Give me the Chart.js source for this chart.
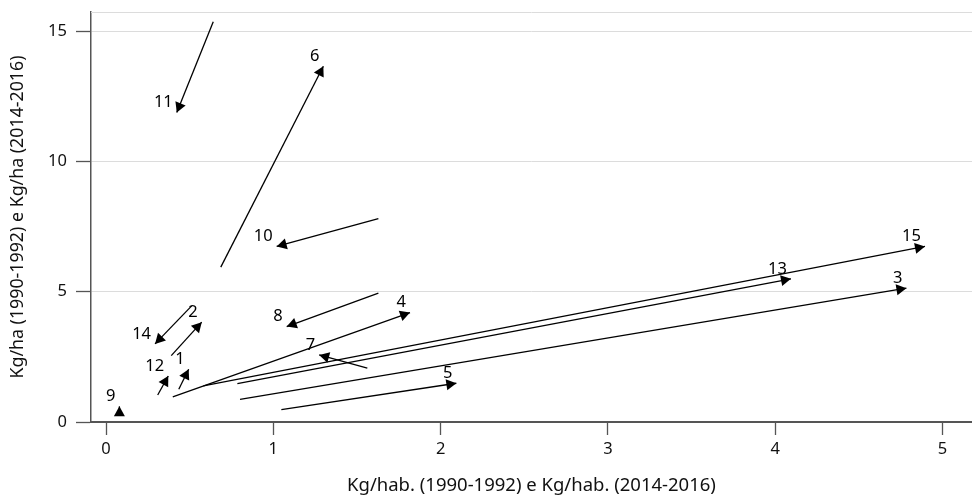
<!DOCTYPE html>
<html>
<head>
<meta charset="utf-8">
<script src="https://cdn.jsdelivr.net/npm/chart.js@4.4.0/dist/chart.umd.min.js"></script>
<style>
  html, body { margin: 0; padding: 0; background: #fff; }
  #wrap { width: 972px; height: 497px; }
</style>
</head>
<body>
<div id="wrap"><canvas id="chart"></canvas></div>
<script>
// ==== Dados: cada seta vai de (1990-1992) para (2014-2016) ====
const ids   = ["1", "2", "3", "4", "5", "6", "7", "8", "9", "10", "11", "12", "13", "14", "15"];
const x1990 = [0.435, 0.390, 0.801, 0.399, 1.048, 0.686, 1.562, 1.628, 0.080, 1.628, 0.641, 0.309, 0.785, 0.512, 0.582];
const y1990 = [1.256, 2.547, 0.872, 0.960, 0.473, 5.943, 2.063, 4.944, 0.250, 7.799, 15.36, 1.037, 1.471, 4.456, 1.383];
const x2014 = [0.494, 0.572, 4.784, 1.817, 2.094, 1.299, 1.274, 1.080, 0.080, 1.020, 0.423, 0.372, 4.094, 0.293, 4.895];
const y2014 = [2.025, 3.830, 5.136, 4.199, 1.487, 13.65, 2.574, 3.661, 0.600, 6.735, 11.87, 1.767, 5.494, 2.997, 6.734];

const xTicks = [0, 1, 2, 3, 4, 5];
const yTicks = [0, 5, 10, 15];

const xTitle = "Kg/hab. (1990-1992) e Kg/hab. (2014-2016)";
const yTitle = "Kg/ha (1990-1992) e Kg/ha (2014-2016)";

const FONT = "'Noto Sans', 'Open Sans', sans-serif";
const AXIS_COLOR = "#555";
const GRID_COLOR = "#dcdcdc";

// uma série por seta (linha simples, sem pontos)
const datasets = ids.map((id, i) => ({
  label: id,
  data: [{ x: x1990[i], y: y1990[i] }, { x: x2014[i], y: y2014[i] }],
  showLine: true,
  borderColor: "#000",
  borderWidth: 1.3,
  pointRadius: 0,
  pointHoverRadius: 0,
  fill: false
}));

// linha superior da área do gráfico
const topBorder = {
  id: "topBorder",
  beforeDatasetsDraw(chart) {
    const { ctx, chartArea } = chart;
    ctx.save();
    ctx.strokeStyle = GRID_COLOR;
    ctx.lineWidth = 1;
    ctx.beginPath();
    ctx.moveTo(chartArea.left, chartArea.top + 0.5);
    ctx.lineTo(chartArea.right, chartArea.top + 0.5);
    ctx.stroke();
    ctx.restore();
  }
};

// pontas das setas + número de cada país
const arrowHeads = {
  id: "arrowHeads",
  afterDatasetsDraw(chart) {
    const { ctx, scales } = chart;
    const sx = scales.x, sy = scales.y;
    const len = 10, half = 5.5;
    ctx.save();
    ids.forEach((id, i) => {
      const x0 = sx.getPixelForValue(x1990[i]), y0 = sy.getPixelForValue(y1990[i]);
      const x1 = sx.getPixelForValue(x2014[i]), y1 = sy.getPixelForValue(y2014[i]);
      const a = Math.atan2(y1 - y0, x1 - x0);
      const bx = x1 - len * Math.cos(a), by = y1 - len * Math.sin(a);
      ctx.beginPath();
      ctx.moveTo(x1, y1);
      ctx.lineTo(bx - half * Math.sin(a), by + half * Math.cos(a));
      ctx.lineTo(bx + half * Math.sin(a), by - half * Math.cos(a));
      ctx.closePath();
      ctx.fillStyle = "#000";
      ctx.fill();

      ctx.font = "16.5px " + FONT;
      ctx.fillStyle = "#000";
      ctx.textAlign = "right";
      ctx.textBaseline = "middle";
      ctx.fillText(id, x1 - 4, y1 - 10);
    });
    ctx.restore();
  }
};

new Chart(document.getElementById("chart"), {
  type: "scatter",
  data: { datasets: datasets },
  options: {
    responsive: true,
    maintainAspectRatio: false,
    animation: false,
    layout: { padding: { top: 12, right: 0, bottom: 0, left: 0 } },
    plugins: {
      legend: { display: false },
      tooltip: { enabled: false }
    },
    scales: {
      x: {
        type: "linear",
        min: -0.0897,
        max: 5.176,
        afterBuildTicks: (scale) => { scale.ticks = xTicks.map(v => ({ value: v })); },
        afterFit: (scale) => {
          scale.height = 75;
          scale.paddingLeft = 0;
          scale.paddingRight = 0;
        },
        grid: {
          drawOnChartArea: false,
          drawTicks: true,
          tickLength: 13,
          tickColor: AXIS_COLOR,
          tickWidth: 1.3
        },
        border: { display: true, color: AXIS_COLOR, width: 2 },
        ticks: {
          color: "#111",
          font: { family: FONT, size: 16.5 },
          padding: 4,
          maxRotation: 0
        },
        title: {
          display: true,
          text: xTitle,
          color: "#111",
          font: { family: FONT, size: 18.5 },
          padding: 0
        }
      },
      y: {
        type: "linear",
        min: 0,
        max: 15.73,
        afterBuildTicks: (scale) => { scale.ticks = yTicks.map(v => ({ value: v })); },
        afterFit: (scale) => {
          scale.width = 91;
          scale.paddingTop = 0;
          scale.paddingBottom = 0;
        },
        grid: {
          color: GRID_COLOR,
          lineWidth: 1,
          drawTicks: true,
          tickLength: 15,
          tickColor: AXIS_COLOR,
          tickWidth: 1.3
        },
        border: { display: true, color: AXIS_COLOR, width: 1.5 },
        ticks: {
          color: "#111",
          font: { family: FONT, size: 16.5 },
          padding: 9
        },
        title: {
          display: true,
          text: yTitle,
          color: "#111",
          font: { family: FONT, size: 17.8 },
          padding: 7
        }
      }
    }
  },
  plugins: [topBorder, arrowHeads]
});
</script>
</body>
</html>
